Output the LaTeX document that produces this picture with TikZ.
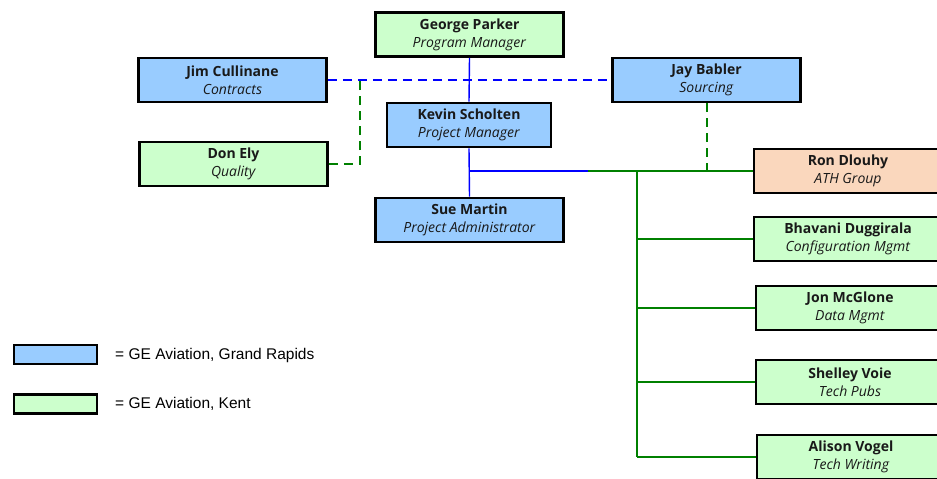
\documentclass[tikz,border=0pt]{standalone}
\usepackage{fontspec}
\setmainfont{Open Sans}
\newfontfamily\legendfont{Liberation Sans}
\definecolor{gblue}{HTML}{99CCFF}
\definecolor{ggreen}{HTML}{CCFFCC}
\definecolor{gorange}{HTML}{FAD7BD}
\definecolor{lblue}{HTML}{0000FF}
\definecolor{lgreen}{HTML}{008000}
\tikzset{
  person/.style={draw=black, line width=2.6pt, minimum width=188pt, minimum height=44pt,
    align=center, inner sep=0pt, font=\fontsize{14}{18}\selectfont, text=black!90},
  bluebox/.style={person, fill=gblue},
  greenbox/.style={person, fill=ggreen},
  orangebox/.style={person, fill=gorange},
  legbox/.style={draw=black, line width=2.4pt, minimum width=83pt, minimum height=19pt, inner sep=0pt},
  legtext/.style={anchor=west, font=\legendfont\fontsize{15.5}{18}\selectfont, inner sep=0pt},
  bline/.style={draw=lblue, line width=1.4pt},
  gline/.style={draw=lgreen, line width=1.4pt},
  bdash/.style={bline, dash pattern=on 9pt off 6pt},
  gdash/.style={gline, dash pattern=on 9pt off 6pt},
}
\newcommand{\pn}[2]{\textbf{#1}\\\textit{#2}}
\begin{document}
\begin{tikzpicture}[x=1pt,y=-1pt]
\useasboundingbox (0,0) rectangle (937,479);
\clip (0,0) rectangle (937,479);
% nodes
\node[greenbox] (george) at (469.5,34.5) {\pn{George Parker}{Program Manager}};
\node[bluebox] (jim) at (232.5,80) {\pn{Jim Cullinane}{Contracts}};
\node[bluebox] (jay) at (706.5,80) {\pn{Jay Babler}{Sourcing}};
\node[bluebox, minimum width=164pt] (kevin) at (469,125) {\pn{Kevin Scholten}{Project Manager}};
\node[greenbox] (don) at (233.5,164) {\pn{Don Ely}{Quality}};
\node[bluebox] (sue) at (469.5,220) {\pn{Sue Martin}{Project Administrator}};
\node[orangebox] (ron) at (848,171) {\pn{Ron Dlouhy}{ATH Group}};
\node[greenbox] (bhavani) at (848,239) {\pn{Bhavani Duggirala}{Configuration Mgmt}};
\node[greenbox] (jon) at (850,308) {\pn{Jon McGlone}{Data Mgmt}};
\node[greenbox] (shelley) at (850,382) {\pn{Shelley Voie}{Tech Pubs}};
\node[greenbox] (alison) at (851,457) {\pn{Alison Vogel}{Tech Writing}};
% coordinates
\coordinate (junc) at (470,171);
\coordinate (bsplit) at (588,171);
\coordinate (ttop) at (637,171);
\coordinate (tbot) at (637,457);
\coordinate (dcorn) at (360,80);
\coordinate (dlow) at (360,164);
\coordinate (jayfoot) at (707,171);
% connectors
\draw[bline] (george.south) -- (kevin.north);
\draw[bline] (kevin.south) -- (sue.north);
\draw[bline] (junc) -- (bsplit);
\draw[gline] (bsplit) -- (ron.west);
\draw[gline] (ttop) -- (tbot);
\draw[gline] (bhavani.west -| ttop) -- (bhavani.west);
\draw[gline] (jon.west -| ttop) -- (jon.west);
\draw[gline] (shelley.west -| ttop) -- (shelley.west);
\draw[gline] (tbot) -- (alison.west);
\draw[bdash] (jim.east) -- (jay.west);
\draw[gdash] (don.east) -- (dlow) -- (dcorn);
\draw[gdash] (jay.south -| jayfoot) -- (jayfoot);
% legend
\node[legbox, fill=gblue] (leg1) at (55.5,354.5) {};
\node[legbox, fill=ggreen] (leg2) at (55.5,404) {};
\node[legtext] (leg1t) at (115,355) {= GE Aviation, Grand Rapids};
\node[legtext] (leg2t) at (115,404) {= GE Aviation, Kent};
\end{tikzpicture}
\end{document}
